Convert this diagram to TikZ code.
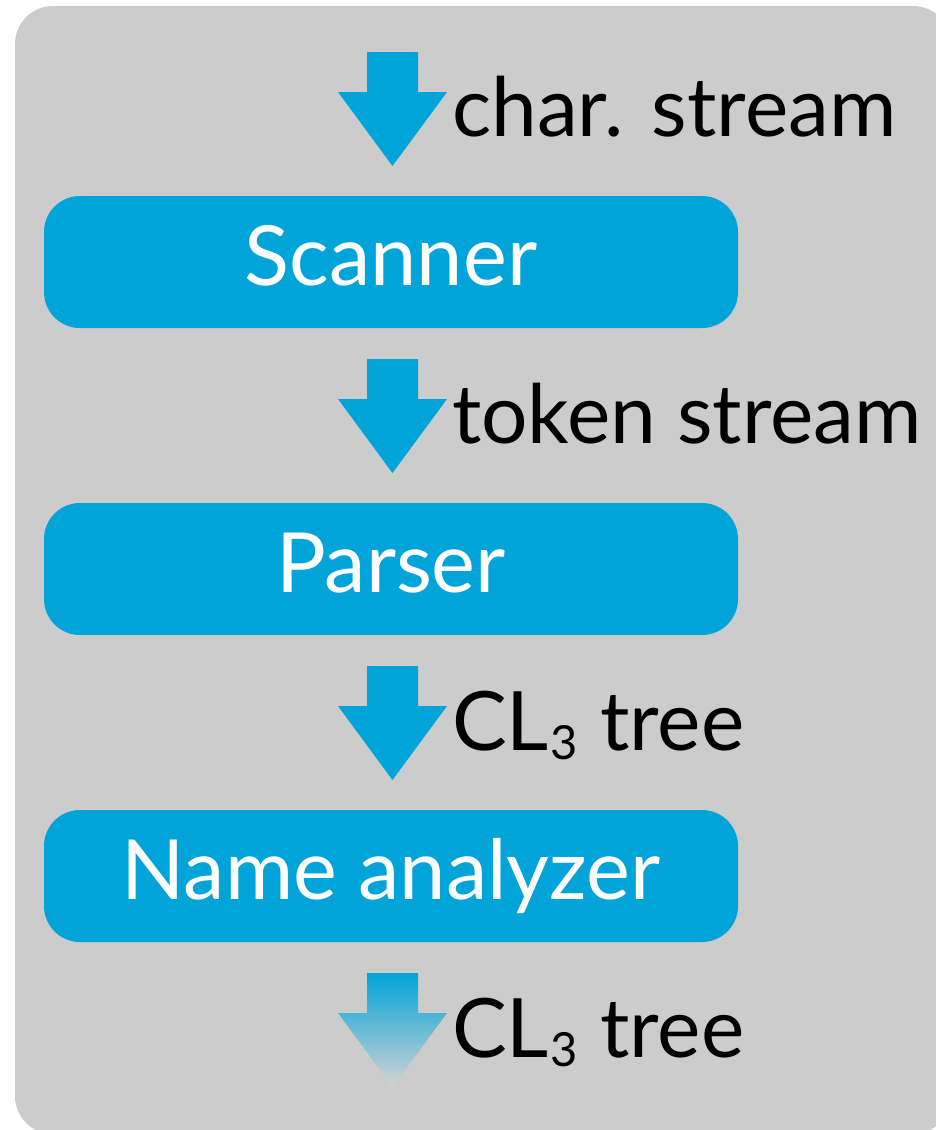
\documentclass[tikz,border=0pt]{standalone}
\usepackage{fontspec}
\setmainfont{Lato}
\definecolor{bg}{HTML}{CCCCCC}
\definecolor{blu}{HTML}{00A4D9}
\tikzset{
  stage/.style={fill=blu, rounded corners=36pt, minimum width=694pt, minimum height=132pt,
    text=white, font=\fontsize{83}{90}\selectfont, inner sep=0pt, text height=66pt, text depth=20pt},
  lbl/.style={anchor=base west, font=\fontsize{82}{90}\selectfont, inner sep=0pt, text=black},
  downarrow/.pic={\path[pic actions] (-25.5,0) -- (25.5,0) -- (25.5,40) -- (54.5,40) -- (0,114)
     -- (-54.5,40) -- (-25.5,40) -- cycle;},
}
\newcommand\subthree{\kern1pt\raisebox{-9pt}{\fontsize{47}{47}\selectfont 3}\kern2pt}
\begin{document}
\begin{tikzpicture}[x=1pt,y=-1pt]
  \useasboundingbox (0,0) rectangle (936,1130);
  \clip (0,0) rectangle (936,1130);
  \fill[white] (0,0) rectangle (936,1130);
  \fill[bg, rounded corners=38pt] (15,6) rectangle (951,1134);

  \coordinate (a1) at (392.5,52);
  \coordinate (a2) at (392.5,359);
  \coordinate (a3) at (392.5,666);
  \coordinate (a4) at (392.5,973);

  \pic[fill=blu] at (a1) {downarrow};
  \pic[fill=blu] at (a2) {downarrow};
  \pic[fill=blu] at (a3) {downarrow};
  \pic[top color=blu, bottom color=bg!85!white] at (a4) {downarrow};

  \node[stage] (scanner) at (391,262) {Scanner};
  \node[stage] (parser) at (391,569) {Parser};
  \node[stage] (names) at (391,876) {Name analyzer};

  \node[lbl] (l1) at (452,136) {char. stream};
  \node[lbl] (l2) at (452,443) {token stream};
  \node[lbl] (l3) at (452,750) {CL\subthree\ tree};
  \node[lbl] (l4) at (452,1057) {CL\subthree\ tree};
\end{tikzpicture}
\end{document}
